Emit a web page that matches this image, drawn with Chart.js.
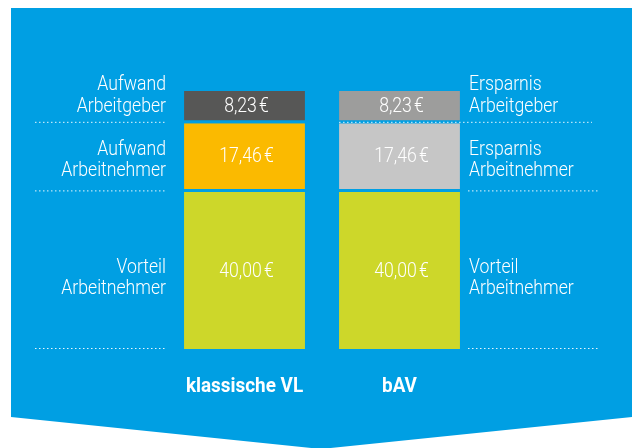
<!DOCTYPE html>
<html><head><meta charset="utf-8">
<script src="https://cdn.jsdelivr.net/npm/chart.js@4"></script>
<style>html,body{margin:0;padding:0;background:#fff;}#wrap{width:632px;height:448px;position:relative}</style>
</head><body><div id="wrap"><canvas id="c" width="632" height="448"></canvas></div>
<script>
// ---- data ----
const categories = ['klassische VL', 'bAV'];
const vorteilArbeitnehmer = [40.00, 40.00];
const anteilArbeitnehmer = [17.46, 17.46];
const anteilArbeitgeber = [8.23, 8.23];
const leftLabels = [['Vorteil', 'Arbeitnehmer'], ['Aufwand', 'Arbeitnehmer'], ['Aufwand', 'Arbeitgeber']];
const rightLabels = [['Vorteil', 'Arbeitnehmer'], ['Ersparnis', 'Arbeitnehmer'], ['Ersparnis', 'Arbeitgeber']];

// ---- style ----
const BLUE = '#009FE3';
const FONT = 'Roboto, "Liberation Sans", sans-serif';
const SX = 0.84; // horizontal condensing to mimic a condensed typeface
const SX_BOLD = 0.9;
const GAP = 3;

const series = [vorteilArbeitnehmer, anteilArbeitnehmer, anteilArbeitgeber];
const totals = categories.map((_, j) => series.reduce((s, a) => s + a[j], 0));
const fmt = v => v.toFixed(2).replace('.', ',') + '\u202F€';

function txt(ctx, t, x, y, align, sx) {
  ctx.save();
  ctx.translate(x, y);
  ctx.scale(sx || SX, 1);
  ctx.textAlign = align;
  ctx.fillText(t, 0, 0);
  ctx.restore();
}

const deco = {
  id: 'deco',
  beforeDraw(chart) {
    const ctx = chart.ctx;
    ctx.save();
    ctx.fillStyle = BLUE;
    ctx.beginPath();
    ctx.moveTo(11, 8); ctx.lineTo(632, 8); ctx.lineTo(632, 417);
    ctx.lineTo(321, 449); ctx.lineTo(11, 417); ctx.closePath();
    ctx.fill();
    ctx.restore();
  },
  afterDatasetsDraw(chart) {
    const ctx = chart.ctx;
    const ys = chart.scales.y, xs = chart.scales.x;
    const metaR = chart.getDatasetMeta(0).data[1];
    const rightBarLeft = metaR.x - metaR.width / 2;
    ctx.save();
    // dotted lines at segment boundaries
    ctx.strokeStyle = 'rgba(255,255,255,0.9)';
    ctx.lineWidth = 1;
    ctx.setLineDash([1.5, 2.5]);
    let cum = 0;
    const bounds = [];
    for (let i = 0; i < series.length; i++) {
      const lower = cum; cum += series[i][0];
      bounds.push([ys.getPixelForValue(lower), ys.getPixelForValue(cum)]);
    }
    const lineYs = [bounds[0][0] - 1, bounds[0][1] - GAP / 2, bounds[1][1] - GAP / 2];
    lineYs.forEach((y, k) => {
      ctx.beginPath(); ctx.moveTo(35, y + 0.5); ctx.lineTo(167, y + 0.5); ctx.stroke();
      const x0 = k === 2 ? rightBarLeft : 468;
      const x1 = k === 2 ? 592 : 600;
      ctx.beginPath(); ctx.moveTo(x0, y + 0.5); ctx.lineTo(x1, y + 0.5); ctx.stroke();
    });
    ctx.setLineDash([]);
    // value labels
    ctx.fillStyle = '#fff';
    ctx.textBaseline = 'middle';
    ctx.font = '300 21px ' + FONT;
    chart.data.datasets.forEach((ds, i) => {
      chart.getDatasetMeta(i).data.forEach((bar, j) => {
        const top = bar.y, bottom = bar.base - (i > 0 ? GAP : 0);
        txt(ctx, fmt(ds.data[j]), bar.x + 2, (top + bottom) / 2 + 1, 'center');
      });
    });
    // side labels
    ctx.font = '300 21px ' + FONT;
    const offs = [8, 4, -10];
    bounds.forEach((b, i) => {
      const cy = (b[0] - (i > 0 ? GAP : 0) + b[1]) / 2 + offs[i];
      [[leftLabels[i], 'right', 166], [rightLabels[i], 'left', 469]].forEach(([lines, al, x]) => {
        lines.forEach((t, k) => txt(ctx, t, x, cy + (k - 0.5) * 21.5, al));
      });
    });
    // category labels
    ctx.font = 'bold 21px ' + FONT;
    ctx.textBaseline = 'alphabetic';
    categories.forEach((c, j) => txt(ctx, c, xs.getPixelForValue(j), chart.chartArea.bottom + 43, 'center', SX_BOLD));
    ctx.restore();
  }
};

const gapBorder = { top: 0, left: 0, right: 0, bottom: GAP };
new Chart(document.getElementById('c'), {
  type: 'bar',
  data: {
    labels: categories,
    datasets: [
      { label: 'Vorteil Arbeitnehmer', data: vorteilArbeitnehmer, backgroundColor: ['#CDD72A', '#CDD72A'], borderWidth: 0 },
      { label: 'Arbeitnehmer', data: anteilArbeitnehmer, backgroundColor: ['#FBBA00', '#C6C6C6'], borderColor: BLUE, borderWidth: gapBorder, borderSkipped: false },
      { label: 'Arbeitgeber', data: anteilArbeitgeber, backgroundColor: ['#575756', '#9D9D9C'], borderColor: BLUE, borderWidth: gapBorder, borderSkipped: false }
    ]
  },
  options: {
    responsive: false,
    animation: false,
    layout: { padding: { left: 167, right: 155, top: 91, bottom: 99 } },
    datasets: { bar: { barPercentage: 0.78, categoryPercentage: 1 } },
    plugins: { legend: { display: false }, tooltip: { enabled: false } },
    scales: {
      x: { display: false, stacked: true },
      y: { display: false, stacked: true, min: 0, max: Math.max(...totals) }
    }
  },
  plugins: [deco]
});
</script></body></html>
